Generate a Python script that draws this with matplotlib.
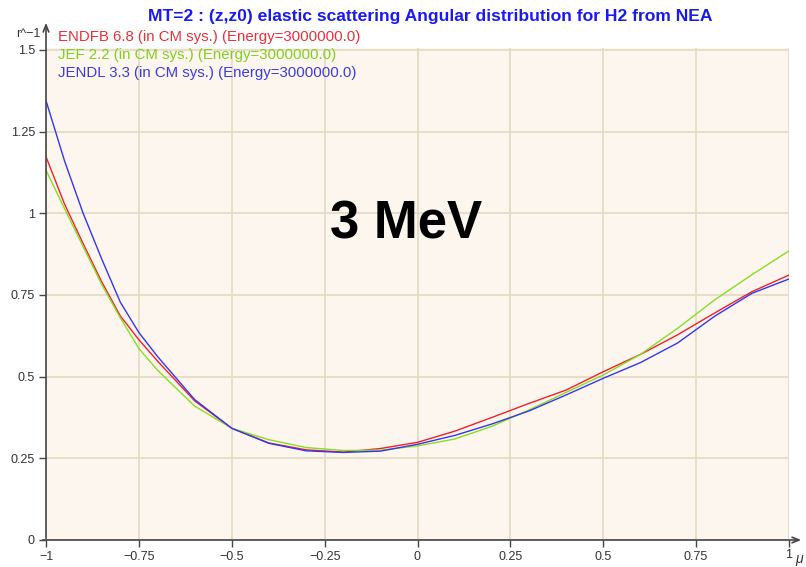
import numpy as np
import matplotlib.pyplot as plt

plt.rcParams['font.family'] = ['Liberation Sans', 'DejaVu Sans']

# cosine of scattering angle (CM) and angular distributions
mu = [-1.0, -0.95, -0.9, -0.85, -0.8, -0.75, -0.7, -0.6, -0.5, -0.4, -0.3, -0.2,
      -0.1, 0.0, 0.1, 0.2, 0.3, 0.4, 0.5, 0.6, 0.7, 0.8, 0.9, 1.0]
endfb = [1.173, 1.028, 0.907, 0.790, 0.686, 0.613, 0.548, 0.426, 0.342, 0.297, 0.276, 0.269,
         0.280, 0.299, 0.333, 0.375, 0.418, 0.459, 0.515, 0.568, 0.628, 0.695, 0.760, 0.811]
jef = [1.132, 1.014, 0.898, 0.782, 0.680, 0.586, 0.520, 0.410, 0.342, 0.307, 0.283, 0.274,
       0.275, 0.288, 0.309, 0.348, 0.398, 0.452, 0.505, 0.568, 0.648, 0.735, 0.812, 0.885]
jendl = [1.345, 1.160, 1.000, 0.860, 0.728, 0.635, 0.562, 0.430, 0.342, 0.296, 0.273, 0.268,
         0.272, 0.293, 0.320, 0.355, 0.395, 0.444, 0.495, 0.543, 0.603, 0.685, 0.755, 0.799]

labels = ['ENDFB 6.8 (in CM sys.) (Energy=3000000.0)',
          'JEF 2.2 (in CM sys.) (Energy=3000000.0)',
          'JENDL 3.3 (in CM sys.) (Energy=3000000.0)']
colors = ['#f0202c', '#88dd22', '#3535f0']
text_colors = ['#e8303a', '#80d020', '#3c3cdc']

xticks = [-1, -0.75, -0.5, -0.25, 0, 0.25, 0.5, 0.75, 1]
xticklabels = ['\u22121', '\u22120.75', '\u22120.5', '\u22120.25', '0', '0.25', '0.5', '0.75', '']
yticks = [0, 0.25, 0.5, 0.75, 1, 1.25, 1.5]
yticklabels = ['0', '0.25', '0.5', '0.75', '1', '1.25', '1.5']

W, H = 806, 567
fig = plt.figure(figsize=(W / 100, H / 100), dpi=100)
ax = fig.add_axes([46 / W, 27 / H, 743 / W, 492 / H])
ax.set_facecolor('#fdf6ee')

for y, c in zip([endfb, jef, jendl], colors):
    ax.plot(mu, y, color=c, lw=1.0, zorder=3)

ax.set_xlim(-1, 1)
ax.set_ylim(0, 1.506)
ax.set_xticks(xticks)
ax.set_xticklabels(xticklabels)
ax.set_yticks(yticks)
ax.set_yticklabels(yticklabels)
ax.grid(True, color='#e4dcc6', lw=1.3)
ax.set_axisbelow(True)
ax.tick_params(direction='out', length=5, width=1, color='#444444',
               labelsize=9, labelcolor='#333333', pad=3)
for s in ax.spines.values():
    s.set_visible(False)

# axes drawn as arrows
ax.annotate('', xy=(46 / W, 1 - 20 / H), xytext=(46 / W, 1 - 541 / H),
            xycoords='figure fraction', textcoords='figure fraction',
            arrowprops=dict(arrowstyle='->,head_length=0.5,head_width=0.2',
                            color='#444444', lw=1.2))
ax.annotate('', xy=(804 / W, 1 - 540 / H), xytext=(40 / W, 1 - 540 / H),
            xycoords='figure fraction', textcoords='figure fraction',
            arrowprops=dict(arrowstyle='->,head_length=0.5,head_width=0.2',
                            color='#444444', lw=1.2))
fig.text(789 / W, 1 - 555 / H, '1', fontsize=9, color='#333333', ha='center', va='center')
fig.text(799 / W, 1 - 559 / H, '\u03bc', fontsize=10, color='#333333', ha='center', va='center',
         style='italic')
fig.text(28 / W, 1 - 34 / H, 'r^\u22121', fontsize=9, color='#333333', ha='center', va='center')

fig.text(430 / W, 1 - 17 / H,
         'MT=2 : (z,z0) elastic scattering Angular distribution for H2 from NEA',
         fontsize=12.6, fontweight='bold', color='#1a1aee', ha='center', va='center')

for i, (lab, c) in enumerate(zip(labels, text_colors)):
    fig.text(58 / W, 1 - (37 + 18 * i) / H, lab, fontsize=10.8, color=c, ha='left', va='center')

ax.text(-0.03, 0.965, '3 MeV', fontsize=38, fontweight='bold', color='black',
        ha='center', va='center')

fig.savefig('out.png', dpi=100)
